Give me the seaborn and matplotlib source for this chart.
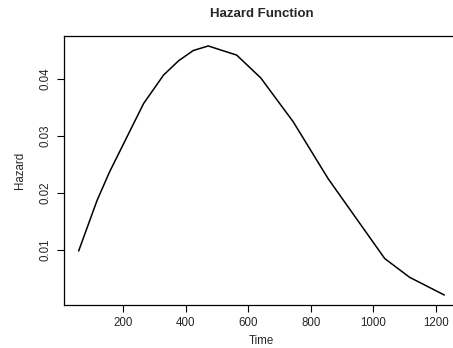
import matplotlib
matplotlib.use("Agg")
import matplotlib.pyplot as plt
import seaborn as sns
import pandas as pd

time = [57, 116, 156, 265, 329, 377, 424, 472, 563, 640, 744, 856, 1037, 1117, 1228]
hazard = [0.00982, 0.0187, 0.0237, 0.0357, 0.0407, 0.0432, 0.0450, 0.0458,
          0.0442, 0.0402, 0.0325, 0.0225, 0.0085, 0.0052, 0.0021]
xticks = [200, 400, 600, 800, 1000, 1200]
yticks = [0.01, 0.02, 0.03, 0.04]

sns.set_style("ticks")
plt.rcParams['font.family'] = ['Liberation Sans', 'DejaVu Sans']

df = pd.DataFrame({"Time": time, "Hazard": hazard})

fig = plt.figure(figsize=(4.53, 3.48), dpi=100)
ax = fig.add_axes([64/453, 43/348, (459-64)/453, (305-36)/348])
sns.lineplot(data=df, x="Time", y="Hazard", ax=ax, color="black", linewidth=1.1)

xmin, xmax = min(time), max(time)
ymin, ymax = min(hazard), max(hazard)
dx = (xmax - xmin) * 0.04
dy = (ymax - ymin) * 0.04
ax.set_xlim(xmin - dx, xmax + dx)
ax.set_ylim(ymin - dy, ymax + dy)
ax.set_xticks(xticks)
ax.set_xticklabels([str(t) for t in xticks])
ax.set_yticks(yticks)
ax.set_yticklabels([f"{t:.2f}" for t in yticks], rotation=90, va="center")
ax.tick_params(axis="both", direction="out", length=5, width=0.8, labelsize=8.3, pad=4, color="black")
for s in ax.spines.values():
    s.set_visible(True)
    s.set_linewidth(0.9)
    s.set_color("black")
ax.set_xlabel("Time", fontsize=8.3, labelpad=4)
ax.set_ylabel("Hazard", fontsize=8.3, labelpad=10)
fig.text(0.5 * (64 + 459) / 453, 1 - 14/348, "Hazard Function", ha="center", va="center",
         fontsize=9.5, fontweight="bold")
fig.savefig("out.png", dpi=100)
